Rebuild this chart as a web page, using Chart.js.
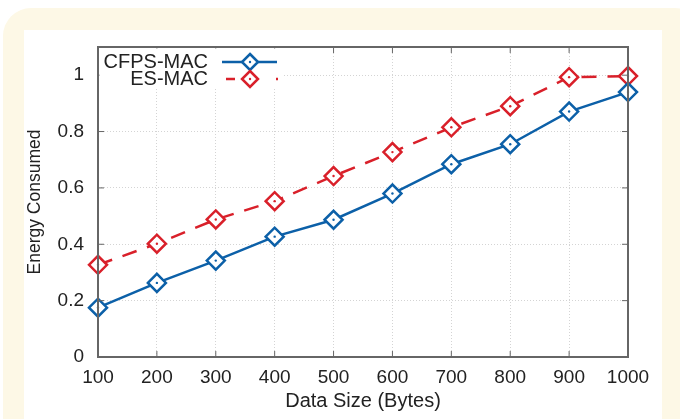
<!DOCTYPE html>
<html>
<head>
<meta charset="utf-8">
<script src="https://cdn.jsdelivr.net/npm/chart.js@4/dist/chart.umd.min.js"></script>
<style>
  html, body { margin: 0; padding: 0; background: #fff; }
  canvas { display: block; }
</style>
</head>
<body>
<canvas id="energyChart" width="680" height="419"></canvas>
<script>
// values
const dataSizes = ['100', '200', '300', '400', '500', '600', '700', '800', '900', '1000'];
const cfpsMac = [0.175, 0.263, 0.342, 0.427, 0.487, 0.58, 0.684, 0.755, 0.871, 0.94];
const esMac = [0.327, 0.402, 0.488, 0.553, 0.642, 0.727, 0.815, 0.89, 0.993, 0.997];
const yTicks = [0, 0.2, 0.4, 0.6, 0.8, 1];

const BLUE = '#0c60a8';
const RED = '#d9202a';
const AXIS = '#666666';
const FONT = "'Liberation Sans', Arial, sans-serif";

function diamond(ctx, x, y, r, color) {
    ctx.save();
    ctx.beginPath();
    ctx.moveTo(x, y - r);
    ctx.lineTo(x + r, y);
    ctx.lineTo(x, y + r);
    ctx.lineTo(x - r, y);
    ctx.closePath();
    ctx.fillStyle = '#fff';
    ctx.fill();
    ctx.lineWidth = 2.5;
    ctx.strokeStyle = color;
    ctx.stroke();
    ctx.beginPath();
    ctx.arc(x, y, 1.2, 0, Math.PI * 2);
    ctx.fillStyle = color;
    ctx.fill();
    ctx.restore();
}

// cream card behind the white figure
const framePlugin = {
    id: 'frame',
    beforeDraw(chart) {
        const ctx = chart.ctx;
        ctx.save();
        ctx.fillStyle = '#ffffff';
        ctx.fillRect(0, 0, chart.width, chart.height);
        ctx.fillStyle = '#fdf8e6';
        ctx.beginPath();
        ctx.roundRect(3, 8, 700, 440, 28);
        ctx.fill();
        ctx.fillStyle = '#ffffff';
        ctx.fillRect(24, 30, 638, 400);
        ctx.restore();
    }
};

// gnuplot-like box, inward ticks, centre dots and key
const decorPlugin = {
    id: 'decor',
    afterDatasetsDraw(chart) {
        const ctx = chart.ctx;
        const a = chart.chartArea;
        const xs = chart.scales.x;
        const ys = chart.scales.y;
        ctx.save();
        // centre dots on markers
        chart.data.datasets.forEach(function(ds, i) {
            chart.getDatasetMeta(i).data.forEach(function(pt) {
                ctx.beginPath();
                ctx.arc(pt.x, pt.y, 1.2, 0, Math.PI * 2);
                ctx.fillStyle = ds.borderColor;
                ctx.fill();
            });
        });

        // border box
        ctx.strokeStyle = AXIS;
        ctx.lineWidth = 2;
        ctx.strokeRect(a.left, a.top, a.right - a.left, a.bottom - a.top);

        // inward ticks
        ctx.lineWidth = 1;
        ys.ticks.forEach(function(t) {
            const y = ys.getPixelForValue(t.value);
            ctx.beginPath();
            ctx.moveTo(a.left, y); ctx.lineTo(a.left + 6, y);
            ctx.moveTo(a.right, y); ctx.lineTo(a.right - 6, y);
            ctx.stroke();
        });
        dataSizes.forEach(function(lbl, i) {
            const x = xs.getPixelForValue(i);
            ctx.beginPath();
            ctx.moveTo(x, a.bottom); ctx.lineTo(x, a.bottom - 6);
            ctx.moveTo(x, a.top); ctx.lineTo(x, a.top + 6);
            ctx.stroke();
        });

        // key
        ctx.fillStyle = '#ffffff';
        ctx.fillRect(a.left + 1.5, a.top + 1.5, 184, 40);
        ctx.font = '20px ' + FONT;
        ctx.fillStyle = '#222';
        ctx.textAlign = 'right';
        ctx.textBaseline = 'middle';
        ctx.fillText(chart.data.datasets[0].label, 208, 62);
        ctx.fillText(chart.data.datasets[1].label, 208, 79);

        ctx.lineWidth = 2.5;
        ctx.strokeStyle = BLUE;
        ctx.beginPath();
        ctx.moveTo(222, 62); ctx.lineTo(277, 62);
        ctx.stroke();
        diamond(ctx, 250, 62, 8, BLUE);

        ctx.strokeStyle = RED;
        ctx.beginPath();
        ctx.moveTo(226, 79); ctx.lineTo(235, 79);
        ctx.moveTo(276, 79); ctx.lineTo(278, 79);
        ctx.stroke();
        diamond(ctx, 250, 79, 8, RED);
        ctx.restore();
    }
};

const ctx = document.getElementById('energyChart').getContext('2d');

new Chart(ctx, {
    type: 'line',
    data: {
        labels: dataSizes,
        datasets: [
            {
                label: 'CFPS-MAC',
                data: cfpsMac,
                borderColor: BLUE,
                borderWidth: 2.5,
                pointStyle: 'rectRot',
                pointRadius: 9,
                pointBorderWidth: 2.5,
                pointBackgroundColor: '#fff',
                pointBorderColor: BLUE,
                tension: 0
            },
            {
                label: 'ES-MAC',
                data: esMac,
                borderColor: RED,
                borderWidth: 2.5,
                borderDash: [15, 11],
                pointStyle: 'rectRot',
                pointRadius: 9,
                pointBorderWidth: 2.5,
                pointBackgroundColor: '#fff',
                pointBorderColor: RED,
                tension: 0
            }
        ]
    },
    options: {
        responsive: false,
        animation: false,
        layout: {
            padding: { left: 25, right: 52, top: 47, bottom: 0 }
        },
        plugins: {
            legend: { display: false },
            tooltip: { enabled: false }
        },
        scales: {
            x: {
                type: 'category',
                offset: false,
                afterFit: function(scale) { scale.height = 62; },
                grid: {
                    color: '#d4d4d4',
                    lineWidth: 1,
                    drawTicks: false
                },
                border: { display: false, dash: [1, 2] },
                ticks: {
                    padding: 9,
                    color: '#222',
                    font: { family: FONT, size: 19 },
                    maxRotation: 0,
                    autoSkip: false
                },
                title: {
                    display: true,
                    text: 'Data Size (Bytes)',
                    color: '#222',
                    font: { family: FONT, size: 20 },
                    padding: { top: 0, bottom: 6 }
                }
            },
            y: {
                min: 0,
                max: 1.1,
                afterFit: function(scale) { scale.width = 73; },
                afterBuildTicks: function(scale) {
                    scale.ticks = yTicks.map(function(v) { return { value: v }; });
                },
                grid: {
                    color: '#d4d4d4',
                    lineWidth: 1,
                    drawTicks: false
                },
                border: { display: false, dash: [1, 2] },
                ticks: {
                    padding: 14,
                    color: '#222',
                    font: { family: FONT, size: 19 },
                    callback: function(value) { return String(value); }
                },
                title: {
                    display: true,
                    text: 'Energy Consumed',
                    color: '#222',
                    font: { family: FONT, size: 17.5 },
                    padding: { top: 0, bottom: 0 }
                }
            }
        }
    },
    plugins: [framePlugin, decorPlugin]
});
</script>
</body>
</html>
